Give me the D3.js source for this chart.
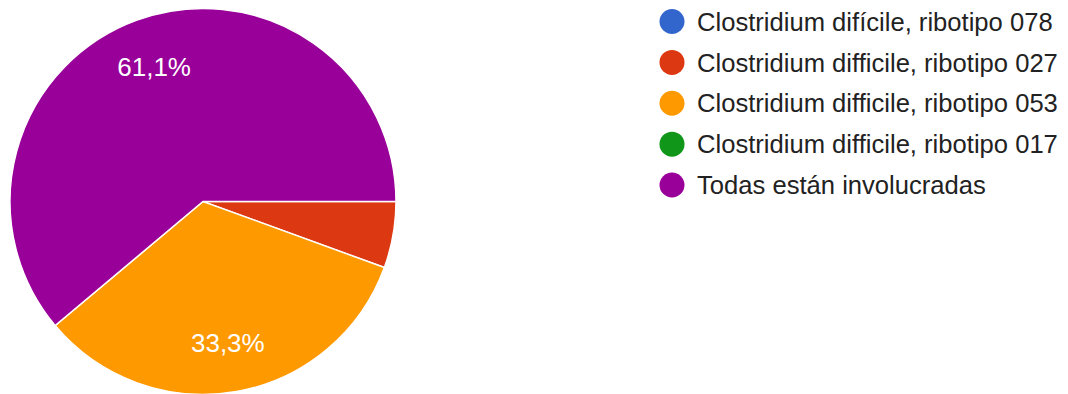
<!DOCTYPE html>
<html>
<head>
<meta charset="utf-8">
<title>Ribotipo pie</title>
<style>
  html, body { margin: 0; padding: 0; background: #fff; }
  svg { display: block; font-family: Arial, "Liberation Sans", sans-serif; }
</style>
</head>
<body>
<div id="chart"></div>
<script src="https://cdn.jsdelivr.net/npm/d3@7/dist/d3.min.js"></script>
<script>
// answers and counts (18 responses)
var categories = [
  "Clostridium difícile, ribotipo 078",
  "Clostridium difficile, ribotipo 027",
  "Clostridium difficile, ribotipo 053",
  "Clostridium difficile, ribotipo 017",
  "Todas están involucradas"
];
var counts = [0, 1, 6, 0, 11];
var colors = ["#3366cc", "#dc3912", "#ff9900", "#109618", "#990099"];

var width = 1068, height = 394;
var cx = 203, cy = 201.5, radius = 193;

var svg = d3.select("#chart").append("svg")
    .attr("width", width)
    .attr("height", height);

var data = categories.map(function(c, i) {
  return { name: c, value: counts[i], color: colors[i] };
});
var total = d3.sum(counts);

var pie = d3.pie()
    .sort(null)
    .value(function(d) { return d.value; })
    .startAngle(Math.PI / 2)
    .endAngle(Math.PI / 2 + 2 * Math.PI);

var arc = d3.arc().innerRadius(0).outerRadius(radius);
var labelArc = d3.arc().innerRadius(143).outerRadius(143);

var g = svg.append("g").attr("transform", "translate(" + cx + "," + cy + ")");

var slices = pie(data).filter(function(d) { return d.data.value > 0; });

g.selectAll("path")
  .data(slices)
  .enter().append("path")
    .attr("d", arc)
    .attr("fill", function(d) { return d.data.color; })
    .attr("stroke", "#fff")
    .attr("stroke-width", 1.5);

// percentage labels only on big enough slices
var fmt = function(v) { return (v / total * 100).toFixed(1).replace(".", ",") + "%"; };
g.selectAll("text.pct")
  .data(slices.filter(function(d) { return d.data.value / total > 0.1; }))
  .enter().append("text")
    .attr("class", "pct")
    .attr("transform", function(d) { return "translate(" + labelArc.centroid(d) + ")"; })
    .attr("dy", "0.36em")
    .attr("text-anchor", "middle")
    .attr("fill", "#fff")
    .attr("font-size", 26)
    .text(function(d) { return fmt(d.data.value); });

// legend
var legendY = d3.scalePoint()
    .domain(categories)
    .range([21.5, 185])
    .padding(0);

var legend = svg.append("g").selectAll("g")
  .data(data)
  .enter().append("g")
    .attr("transform", function(d) { return "translate(672," + legendY(d.name) + ")"; });

legend.append("circle")
    .attr("r", 12.5)
    .attr("fill", function(d) { return d.color; });

legend.append("text")
    .attr("x", 25)
    .attr("dy", "0.36em")
    .attr("font-size", 25.6)
    .attr("fill", "#222")
    .text(function(d) { return d.name; });
</script>
</body>
</html>
